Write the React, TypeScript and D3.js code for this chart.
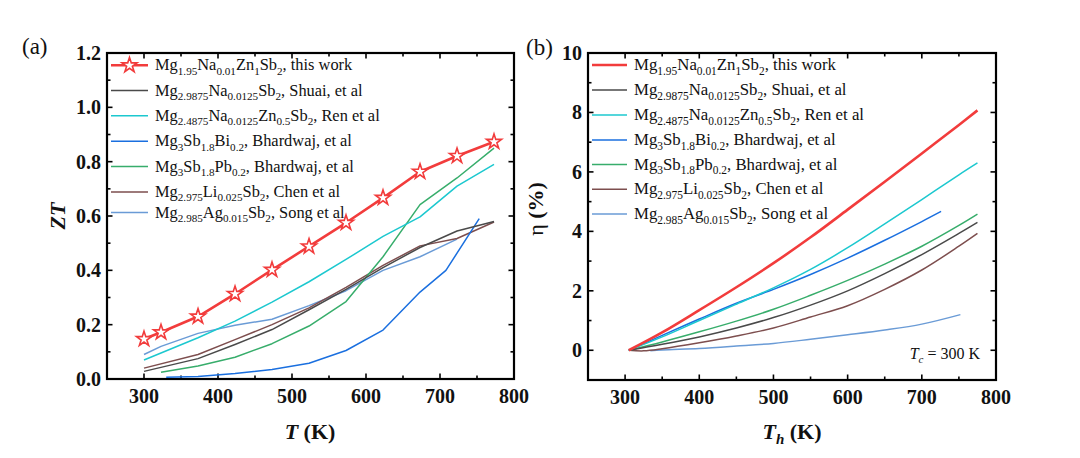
import React from "react";
import * as d3 from "d3";

const FONT = "'Liberation Serif', 'Times New Roman', Times, serif";

// ---------- Panel (a): ZT vs T ----------
const T_this = [300, 323, 373, 423, 473, 523, 573, 623, 673, 723, 773];
const ZT_this = [0.147, 0.172, 0.23, 0.313, 0.402, 0.488, 0.575, 0.667, 0.763, 0.821, 0.873];

const T_shuai = [300, 373, 423, 473, 523, 573, 623, 673, 723, 773];
const ZT_shuai = [0.028, 0.075, 0.127, 0.182, 0.255, 0.33, 0.41, 0.484, 0.545, 0.58];

const T_ren = [300, 373, 423, 473, 523, 573, 623, 673, 723, 773];
const ZT_ren = [0.07, 0.152, 0.213, 0.283, 0.358, 0.44, 0.525, 0.597, 0.71, 0.79];

const T_bi = [330, 373, 423, 473, 523, 573, 623, 673, 708, 753];
const ZT_bi = [0.006, 0.009, 0.02, 0.035, 0.058, 0.105, 0.18, 0.32, 0.4, 0.59];

const T_pb = [323, 373, 423, 473, 523, 573, 623, 673, 723, 773];
const ZT_pb = [0.025, 0.048, 0.08, 0.13, 0.195, 0.285, 0.45, 0.642, 0.74, 0.85];

const T_chen = [300, 373, 423, 473, 523, 573, 623, 673, 723, 773];
const ZT_chen = [0.04, 0.09, 0.145, 0.2, 0.262, 0.337, 0.418, 0.49, 0.517, 0.578];

const T_song = [300, 323, 373, 423, 473, 523, 573, 623, 673, 723];
const ZT_song = [0.09, 0.12, 0.168, 0.198, 0.22, 0.27, 0.325, 0.4, 0.45, 0.515];

// ---------- Panel (b): efficiency vs Th ----------
const Th_this = [305, 350, 400, 450, 500, 550, 600, 650, 700, 750, 775];
const eta_this = [0, 0.6, 1.35, 2.12, 2.93, 3.8, 4.73, 5.67, 6.62, 7.58, 8.07];

const Th_shuai = [305, 350, 400, 450, 500, 550, 600, 650, 700, 750, 775];
const eta_shuai = [0, 0.2, 0.45, 0.75, 1.1, 1.52, 2.0, 2.58, 3.22, 3.93, 4.3];

const Th_ren = [305, 350, 400, 450, 500, 550, 600, 650, 700, 750, 775];
const eta_ren = [0, 0.45, 1.0, 1.55, 2.1, 2.72, 3.45, 4.25, 5.07, 5.9, 6.3];

const Th_bi = [305, 350, 400, 450, 500, 550, 600, 650, 700, 726];
const eta_bi = [0, 0.5, 1.05, 1.58, 2.05, 2.55, 3.1, 3.7, 4.33, 4.67];

const Th_pb = [305, 350, 400, 450, 500, 550, 600, 650, 700, 750, 775];
const eta_pb = [0, 0.28, 0.62, 0.98, 1.38, 1.85, 2.35, 2.9, 3.5, 4.2, 4.58];

const Th_chen = [305, 325, 350, 400, 450, 500, 550, 600, 650, 700, 750, 775];
const eta_chen = [0, -0.02, 0.05, 0.25, 0.48, 0.75, 1.12, 1.5, 2.05, 2.7, 3.5, 3.93];

const Th_song = [334, 350, 400, 450, 500, 550, 600, 650, 700, 752];
const eta_song = [-0.02, 0.01, 0.06, 0.14, 0.23, 0.37, 0.52, 0.68, 0.88, 1.2];

// ---------- Legend / series meta ----------
const seriesLabels = [
  "Mg_{1.95}Na_{0.01}Zn_{1}Sb_{2}, this work",
  "Mg_{2.9875}Na_{0.0125}Sb_{2}, Shuai, et al",
  "Mg_{2.4875}Na_{0.0125}Zn_{0.5}Sb_{2}, Ren et al",
  "Mg_{3}Sb_{1.8}Bi_{0.2}, Bhardwaj, et al",
  "Mg_{3}Sb_{1.8}Pb_{0.2}, Bhardwaj, et al",
  "Mg_{2.975}Li_{0.025}Sb_{2}, Chen et al",
  "Mg_{2.985}Ag_{0.015}Sb_{2}, Song et al",
];
const seriesColors = ["#F23C3C", "#4A4A4A", "#1CC8CF", "#1A6FDF", "#37AD6B", "#7D4E4E", "#6A9BD6"];

const xTicks = [300, 400, 500, 600, 700, 800];
const zTicks = [0.0, 0.2, 0.4, 0.6, 0.8, 1.0, 1.2];
const etaTicks = [0, 2, 4, 6, 8, 10];

type Seg = { t: string; sub: boolean };
function parseRich(s: string): Seg[] {
  const out: Seg[] = [];
  const re = /_\{([^}]*)\}/g;
  let last = 0;
  let m: RegExpExecArray | null;
  while ((m = re.exec(s))) {
    if (m.index > last) out.push({ t: s.slice(last, m.index), sub: false });
    out.push({ t: m[1], sub: true });
    last = m.index + m[0].length;
  }
  if (last < s.length) out.push({ t: s.slice(last), sub: false });
  return out;
}

function RichText({ x, y, s, fs, fill = "#111" }: { x: number; y: number; s: string; fs: number; fill?: string }) {
  const segs = parseRich(s);
  const shift = fs * 0.28;
  let inSub = false;
  return (
    <text x={x} y={y} fontFamily={FONT} fontSize={fs} fill={fill}>
      {segs.map((sg, i) => {
        let dy = 0;
        if (sg.sub && !inSub) dy = shift;
        if (!sg.sub && inSub) dy = -shift;
        inSub = sg.sub;
        return (
          <tspan key={i} dy={dy} fontSize={sg.sub ? fs * 0.68 : fs}>
            {sg.t}
          </tspan>
        );
      })}
    </text>
  );
}

type Panel = {
  x: d3.ScaleLinear<number, number>;
  y: d3.ScaleLinear<number, number>;
};

function Frame({ p, yMajor, yMinor, yFmt }: { p: Panel; yMajor: number[]; yMinor: number[]; yFmt: (v: number) => string }) {
  const [x0, x1] = p.x.range();
  const [y0, y1] = p.y.range(); // y0 bottom, y1 top
  const xMajor = xTicks;
  const xMinor = d3.range(250, 801, 50).filter((v) => !xMajor.includes(v) && v > 250 && v < 800);
  const MJ = 5.5;
  const MN = 3.5;
  const sw = 1.6;
  return (
    <g>
      {xMajor.map((v) => (
        <g key={"xm" + v}>
          <line x1={p.x(v)} x2={p.x(v)} y1={y0} y2={y0 - MJ} stroke="#000" strokeWidth={sw} />
          <line x1={p.x(v)} x2={p.x(v)} y1={y1} y2={y1 + MJ} stroke="#000" strokeWidth={sw} />
          <text x={p.x(v)} y={y0 + 24} textAnchor="middle" fontFamily={FONT} fontWeight="bold" fontSize={20} fill="#111">
            {v}
          </text>
        </g>
      ))}
      {xMinor.map((v) => (
        <g key={"xn" + v}>
          <line x1={p.x(v)} x2={p.x(v)} y1={y0} y2={y0 - MN} stroke="#000" strokeWidth={sw} />
          <line x1={p.x(v)} x2={p.x(v)} y1={y1} y2={y1 + MN} stroke="#000" strokeWidth={sw} />
        </g>
      ))}
      {yMajor.map((v) => (
        <g key={"ym" + v}>
          <line x1={x0} x2={x0 + MJ} y1={p.y(v)} y2={p.y(v)} stroke="#000" strokeWidth={sw} />
          <line x1={x1} x2={x1 - MJ} y1={p.y(v)} y2={p.y(v)} stroke="#000" strokeWidth={sw} />
          <text x={x0 - 6} y={p.y(v)} dy="0.35em" textAnchor="end" fontFamily={FONT} fontWeight="bold" fontSize={20} fill="#111">
            {yFmt(v)}
          </text>
        </g>
      ))}
      {yMinor.map((v) => (
        <g key={"yn" + v}>
          <line x1={x0} x2={x0 + MN} y1={p.y(v)} y2={p.y(v)} stroke="#000" strokeWidth={sw} />
          <line x1={x1} x2={x1 - MN} y1={p.y(v)} y2={p.y(v)} stroke="#000" strokeWidth={sw} />
        </g>
      ))}
      <rect x={x0} y={y1} width={x1 - x0} height={y0 - y1} fill="none" stroke="#000" strokeWidth={2.2} />
    </g>
  );
}

export default function App() {
  const xa = d3.scaleLinear().domain([250, 800]).range([107, 514]);
  const ya = d3.scaleLinear().domain([0, 1.2]).range([379, 53]);
  const xb = d3.scaleLinear().domain([250, 800]).range([588, 996]);
  const yb = d3.scaleLinear().domain([-1, 10]).range([380, 53]);

  const seriesA: [number[], number[]][] = [
    [T_this, ZT_this],
    [T_shuai, ZT_shuai],
    [T_ren, ZT_ren],
    [T_bi, ZT_bi],
    [T_pb, ZT_pb],
    [T_chen, ZT_chen],
    [T_song, ZT_song],
  ];
  const seriesB: [number[], number[]][] = [
    [Th_this, eta_this],
    [Th_shuai, eta_shuai],
    [Th_ren, eta_ren],
    [Th_bi, eta_bi],
    [Th_pb, eta_pb],
    [Th_chen, eta_chen],
    [Th_song, eta_song],
  ];

  const lineA = d3
    .line<[number, number]>()
    .x((d) => xa(d[0]))
    .y((d) => ya(d[1]));
  const lineB = d3
    .line<[number, number]>()
    .x((d) => xb(d[0]))
    .y((d) => yb(d[1]))
    .curve(d3.curveCatmullRom.alpha(0.5));

  const star = d3.symbol().type(d3.symbolStar).size(70)()!;
  const zip = (xs: number[], ys: number[]) => xs.map((v, i) => [v, ys[i]] as [number, number]);

  const legA = [65.3, 90.5, 115.8, 141.3, 166.6, 191.9, 212.5];
  const legB = [65, 90, 115, 140, 164.5, 189.3, 214];

  const drawOrder = [6, 5, 4, 3, 2, 1, 0];

  return (
    <svg width={1080} height={458} style={{ position: "absolute", left: 0, top: 0, background: "#fff" }}>
      <rect x={0} y={0} width={1080} height={458} fill="#fff" />
      {/* Panel (a) */}
      <text x={22} y={54} fontFamily={FONT} fontSize={23} fill="#111">(a)</text>
      <Frame p={{ x: xa, y: ya }} yMajor={zTicks} yMinor={d3.range(0.1, 1.2, 0.2)} yFmt={(v) => v.toFixed(1)} />
      <g>
        {drawOrder.map((i) => (
          <path
            key={"a" + i}
            d={lineA(zip(seriesA[i][0], seriesA[i][1])) || ""}
            fill="none"
            stroke={seriesColors[i]}
            strokeWidth={i === 0 ? 2.6 : 1.5}
            strokeLinejoin="round"
          />
        ))}
        {T_this.map((t, k) => (
          <path key={"st" + k} d={star} transform={`translate(${xa(t)},${ya(ZT_this[k])})`} fill="#fff" stroke={seriesColors[0]} strokeWidth={1.6} />
        ))}
      </g>
      <g>
        {seriesLabels.map((lab, i) => (
          <g key={"la" + i}>
            <line x1={111} x2={148} y1={legA[i]} y2={legA[i]} stroke={seriesColors[i]} strokeWidth={i === 0 ? 2.6 : 1.5} />
            {i === 0 && <path d={star} transform={`translate(129.5,${legA[i]})`} fill="#fff" stroke={seriesColors[0]} strokeWidth={1.6} />}
            <RichText x={155} y={legA[i] + 5} s={lab} fs={16.4} />
          </g>
        ))}
      </g>
      <text transform="translate(65,216) rotate(-90)" textAnchor="middle" fontFamily={FONT} fontWeight="bold" fontStyle="italic" fontSize={22} fill="#111">
        ZT
      </text>
      <text x={310} y={439} textAnchor="middle" fontFamily={FONT} fontWeight="bold" fontSize={22} fill="#111">
        <tspan fontStyle="italic">T</tspan>
        <tspan> (K)</tspan>
      </text>

      {/* Panel (b) */}
      <text x={526} y={55} fontFamily={FONT} fontSize={23} fill="#111">(b)</text>
      <Frame p={{ x: xb, y: yb }} yMajor={etaTicks} yMinor={[1, 3, 5, 7, 9]} yFmt={(v) => String(v)} />
      <g>
        {drawOrder.map((i) => (
          <path
            key={"b" + i}
            d={lineB(zip(seriesB[i][0], seriesB[i][1])) || ""}
            fill="none"
            stroke={seriesColors[i]}
            strokeWidth={i === 0 ? 2.6 : 1.5}
            strokeLinejoin="round"
          />
        ))}
      </g>
      <g>
        {seriesLabels.map((lab, i) => (
          <g key={"lb" + i}>
            <line x1={592} x2={627} y1={legB[i]} y2={legB[i]} stroke={seriesColors[i]} strokeWidth={i === 0 ? 2.6 : 1.5} />
            <RichText x={634} y={legB[i] + 5} s={lab} fs={16.8} />
          </g>
        ))}
      </g>
      <text x={980} y={359} textAnchor="end" fontFamily={FONT} fontSize={16} fill="#111">
        <tspan fontStyle="italic">T</tspan>
        <tspan fontStyle="italic" fontSize={11} dy={4}>c</tspan>
        <tspan dy={-4}> = 300 K</tspan>
      </text>
      <text transform="translate(543,209) rotate(-90)" textAnchor="middle" fontFamily={FONT} fontSize={22} fill="#111">
        <tspan>η </tspan>
        <tspan fontWeight="bold">(%)</tspan>
      </text>
      <text x={792} y={439} textAnchor="middle" fontFamily={FONT} fontWeight="bold" fontSize={22} fill="#111">
        <tspan fontStyle="italic">T</tspan>
        <tspan fontStyle="italic" fontSize={15} dy={5}>h</tspan>
        <tspan dy={-5}> (K)</tspan>
      </text>
    </svg>
  );
}
